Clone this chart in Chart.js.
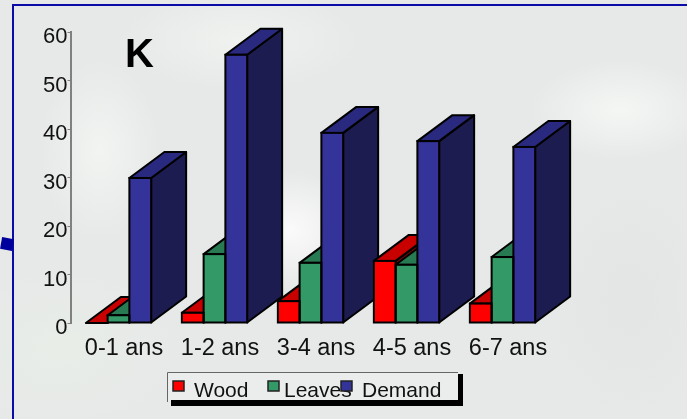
<!DOCTYPE html>
<html>
<head>
<meta charset="utf-8">
<script src="https://cdn.jsdelivr.net/npm/chart.js@4/dist/chart.umd.min.js"></script>
<style>
  html, body { margin: 0; padding: 0; }
  body {
    width: 687px; height: 419px; overflow: hidden; position: relative;
    background-color: #e7e9e8;
    background-image:
      radial-gradient(ellipse 70px 60px at 290px 230px, rgba(255,255,255,.8), rgba(255,255,255,0)),
      radial-gradient(ellipse 60px 90px at 100px 150px, rgba(245,247,245,.8), rgba(245,247,245,0)),
      radial-gradient(ellipse 90px 50px at 620px 110px, rgba(248,250,248,.8), rgba(248,250,248,0)),
      radial-gradient(ellipse 120px 50px at 240px 40px, rgba(240,243,240,.9), rgba(240,243,240,0)),
      radial-gradient(ellipse 90px 120px at 630px 300px, rgba(226,229,228,.9), rgba(226,229,228,0)),
      radial-gradient(ellipse 120px 80px at 60px 350px, rgba(232,238,232,.9), rgba(232,238,232,0));
  }
  .frame { position: absolute; left: 12px; top: 4px; right: -4px; bottom: -4px;
           border-left: 2px solid #0b0ba8; border-top: 2px solid #0b0ba8; }
  .mark { position: absolute; left: 1px; top: 238px; width: 12px; height: 12px;
          background: #00009c; transform: rotate(10deg); }
  canvas { position: absolute; left: 0; top: 0; }
</style>
</head>
<body>
<div class="frame"></div>
<div class="mark"></div>
<canvas id="myChart" width="687" height="419"></canvas>
<script>
const categories = ["0-1 ans", "1-2 ans", "3-4 ans", "4-5 ans", "6-7 ans"];
const wood = [0, 2.1, 4.5, 12.8, 4];
const leaves = [1.6, 14.2, 12.4, 12, 13.6];
const demand = [29.9, 55.3, 39.2, 37.5, 36.3];
const yMax = 60;
const yStep = 10;
const chartTitle = "K";
const seriesNames = ["Wood", "Leaves", "Demand"];

const fronts = ["#ff0000", "#339966", "#333399"];
const tops = ["#c80000", "#287a52", "#29297f"];
const sides = ["#800000", "#1f5c3e", "#1c1c50"];

const font = "'Liberation Sans', Arial, sans-serif";
const ctx = document.getElementById("myChart").getContext("2d");

// depth of the fake 3d bars
const depthX = 35;
const depthY = 26;

function poly(c, pts, fill) {
  c.beginPath();
  c.moveTo(pts[0][0], pts[0][1]);
  for (let i = 1; i < pts.length; i++) c.lineTo(pts[i][0], pts[i][1]);
  c.closePath();
  c.fillStyle = fill;
  c.fill();
  c.lineWidth = 2;
  c.lineJoin = "round";
  c.strokeStyle = "#000";
  c.stroke();
}

const depthPlugin = {
  id: "depth",
  beforeDatasetsDraw(chart) {
    const c = chart.ctx;
    c.save();
    for (let j = 0; j < categories.length; j++) {
      for (let d = 0; d < chart.data.datasets.length; d++) {
        const bar = chart.getDatasetMeta(d).data[j];
        const l = bar.x - bar.width / 2;
        const r = bar.x + bar.width / 2;
        const t = bar.y;
        const b = bar.base;
        poly(c, [[r, b], [r + depthX, b - depthY], [r + depthX, t - depthY], [r, t]], sides[d]);
        poly(c, [[l, t], [l + depthX, t - depthY], [r + depthX, t - depthY], [r, t]], tops[d]);
      }
    }
    c.restore();
  },
  // outline centred on the bar edge, so neighbours share one line
  afterDatasetsDraw(chart) {
    const c = chart.ctx;
    c.save();
    c.strokeStyle = "#000";
    c.lineWidth = 2;
    for (let d = 0; d < chart.data.datasets.length; d++) {
      chart.getDatasetMeta(d).data.forEach((bar) => {
        c.strokeRect(bar.x - bar.width / 2, bar.y, bar.width, bar.base - bar.y);
      });
    }
    c.restore();
  },
};

const extrasPlugin = {
  id: "extras",
  afterDraw(chart) {
    const c = chart.ctx;
    c.save();

    c.fillStyle = "#000";
    c.font = "bold 40px " + font;
    c.textBaseline = "alphabetic";
    c.fillText(chartTitle, 125, 67);

    // legend box, shadow first
    c.fillStyle = "rgba(255,255,255,0.2)";
    c.fillRect(168, 373, 290, 28);
    c.fillStyle = "#000";
    c.fillRect(171, 400, 292, 6);
    c.fillRect(458, 374, 5, 32);
    c.strokeStyle = "#666";
    c.lineWidth = 1;
    c.beginPath();
    c.moveTo(167.5, 402);
    c.lineTo(167.5, 372.5);
    c.lineTo(458, 372.5);
    c.stroke();

    const textX = [194, 284, 362];
    const markX = [173, 268, 341];
    c.font = "21px " + font;
    c.fillStyle = "#111";
    seriesNames.forEach((name, i) => c.fillText(name, textX[i], 397));
    seriesNames.forEach((name, i) => {
      c.fillStyle = fronts[i];
      c.fillRect(markX[i], 381, 11, 10);
      c.strokeStyle = "#222";
      c.lineWidth = 1.5;
      c.strokeRect(markX[i], 381, 11, 10);
    });
    c.restore();
  },
};

const myChart = new Chart(ctx, {
  type: "bar",
  data: {
    labels: categories,
    datasets: [
      { label: seriesNames[0], data: wood, backgroundColor: fronts[0] },
      { label: seriesNames[1], data: leaves, backgroundColor: fronts[1] },
      { label: seriesNames[2], data: demand, backgroundColor: fronts[2] },
    ],
  },
  options: {
    responsive: false,
    animation: false,
    layout: { padding: { left: 0, right: 136.5, top: 32, bottom: 0 } },
    datasets: {
      bar: {
        borderWidth: 0,
        barPercentage: 1,
        categoryPercentage: 0.68,
      },
    },
    plugins: {
      legend: { display: false },
      title: { display: false },
      tooltip: { enabled: false },
    },
    scales: {
      x: {
        afterFit: (s) => { s.height = 96; },
        grid: { display: false },
        border: { display: false },
        ticks: {
          color: "#111",
          font: { family: font, size: 23.5 },
          maxRotation: 0,
          autoSkip: false,
          padding: 3,
          labelOffset: 5.5,
        },
      },
      y: {
        min: 0,
        max: yMax,
        afterFit: (s) => { s.width = 70.5; },
        border: { color: "#808080", width: 2 },
        grid: { drawOnChartArea: false, color: "#808080", tickLength: 3 },
        ticks: {
          stepSize: yStep,
          color: "#111",
          font: { family: font, size: 22 },
          padding: 0,
          labelOffset: 5,
        },
      },
    },
  },
  plugins: [depthPlugin, extrasPlugin],
});
</script>
</body>
</html>
